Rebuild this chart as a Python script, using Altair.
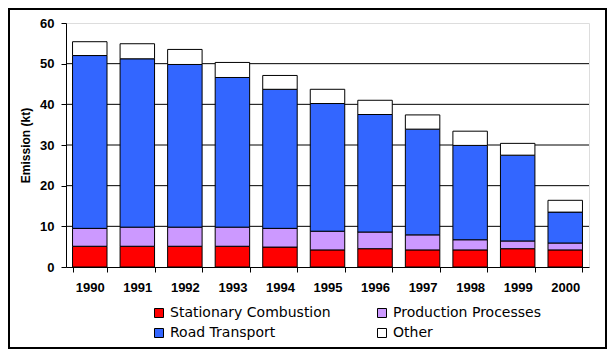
import altair as alt
import pandas as pd

years = ["1990", "1991", "1992", "1993", "1994", "1995", "1996", "1997", "1998", "1999", "2000"]
stationary = [5.1, 5.1, 5.1, 5.1, 4.9, 4.2, 4.5, 4.2, 4.2, 4.5, 4.2]
production = [4.4, 4.7, 4.7, 4.7, 4.6, 4.6, 4.1, 3.7, 2.5, 1.9, 1.7]
road = [42.5, 41.4, 40.0, 36.8, 34.2, 31.4, 28.9, 26.0, 23.2, 21.1, 7.6]
other = [3.4, 3.7, 3.7, 3.7, 3.4, 3.5, 3.5, 3.5, 3.5, 2.9, 2.9]

sources = ["Stationary Combustion", "Production Processes", "Road Transport", "Other"]
colors = ["#FF0000", "#CC99FF", "#3366FF", "#FFFFFF"]
series = [stationary, production, road, other]
legend_order = ["Stationary Combustion", "Road Transport", "Production Processes", "Other"]
legend_colors = [colors[sources.index(s)] for s in legend_order]
grid_values = [10, 20, 30, 40, 50]
y_ticks = [0, 10, 20, 30, 40, 50, 60]

rows = []
for si, (name, vals) in enumerate(zip(sources, series)):
    for y, v in zip(years, vals):
        rows.append({"Year": y, "Source": name, "Value": v, "order": si})
df = pd.DataFrame(rows)

W, H = 523, 244

yscale = alt.Scale(domain=[0, 60], nice=False)
yaxis = alt.Axis(title="Emission (kt)", values=y_ticks,
                 labelFont="Liberation Sans", labelFontWeight="bold",
                 labelFontSize=13, labelColor="black", labelPadding=7,
                 tickSize=5, tickColor="black", domainColor="black",
                 grid=False,
                 titleFont="Liberation Sans", titleFontWeight="bold",
                 titleFontSize=12, titleColor="black", titlePadding=7)

grid = alt.Chart(pd.DataFrame({"v": grid_values})).mark_rule(
    color="black", strokeWidth=1
).encode(y=alt.Y("v:Q", scale=yscale, axis=yaxis, title="Emission (kt)"))

bars = alt.Chart(df).mark_bar(stroke="black", strokeWidth=1).encode(
    x=alt.X("Year:N", sort=years,
            scale=alt.Scale(paddingInner=0.275, paddingOuter=0.1375),
            axis=alt.Axis(title=None, labelAngle=0, labelFont="Liberation Sans",
                          labelFontWeight="bold", labelFontSize=13, labelColor="black",
                          tickBand="extent", tickSize=5, tickColor="black",
                          domainColor="black", labelPadding=9)),
    y=alt.Y("Value:Q", stack="zero", scale=yscale, axis=yaxis, title="Emission (kt)"),
    color=alt.Color("Source:N", scale=alt.Scale(domain=legend_order, range=legend_colors),
                    legend=alt.Legend(title=None, orient="none", legendX=86, legendY=283,
                                      columns=2, columnPadding=44, rowPadding=6,
                                      symbolType="square", symbolSize=81,
                                      symbolStrokeColor="black", symbolStrokeWidth=1,
                                      symbolOpacity=1,
                                      labelFont="DejaVu Sans", labelFontSize=14,
                                      labelColor="black", labelLimit=300,
                                      labelOffset=4, padding=0)),
    order=alt.Order("order:Q", sort="ascending"),
)

border = alt.Chart(pd.DataFrame({"a": [0]})).mark_rect(
    fillOpacity=0, stroke="black", strokeWidth=2
).encode(
    x=alt.value(-57), x2=alt.value(540), y=alt.value(-14), y2=alt.value(325)
)

chart = alt.layer(grid, bars, border).properties(
    width=W, height=H,
    autosize=alt.AutoSizeParams(type="none"),
    padding={"left": 58, "top": 15, "right": 18, "bottom": 82},
).configure_view(stroke="#808080", strokeWidth=1).configure(background="white")

chart.save("out.html", embed_options={"renderer": "svg", "actions": False})
